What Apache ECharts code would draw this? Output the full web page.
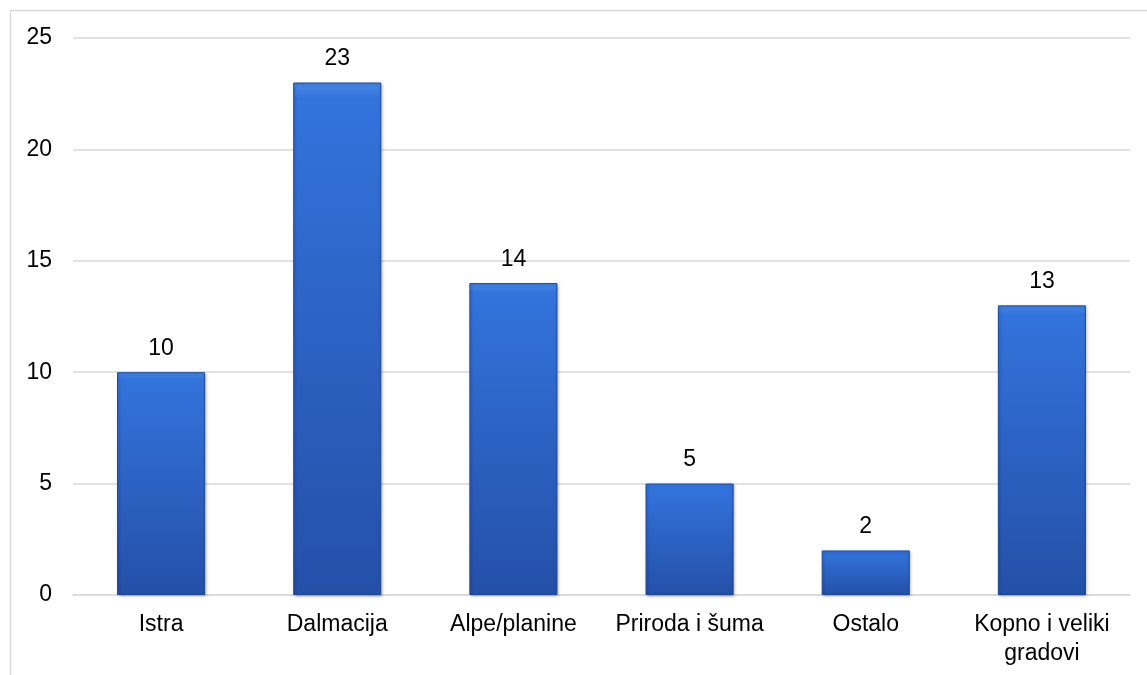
<!DOCTYPE html>
<html><head><meta charset="utf-8">
<script src="https://cdn.jsdelivr.net/npm/echarts@6/dist/echarts.min.js"></script>
<style>html,body{margin:0;padding:0;background:#fff}#c{width:1147px;height:675px}</style>
</head><body><div id="c"></div>
<script>
const categories = ['Istra', 'Dalmacija', 'Alpe/planine', 'Priroda i šuma', 'Ostalo', 'Kopno i veliki\ngradovi'];
const values = [10, 23, 14, 5, 2, 13];
const yTicks = [0, 5, 10, 15, 20, 25];

const chart = echarts.init(document.getElementById('c'));
chart.setOption({
  animation: false,
  textStyle: { fontFamily: 'Liberation Sans, Arial, sans-serif' },
  graphic: [{
    type: 'rect', left: 8, top: 8, shape: { width: 1200, height: 700 },
    style: { fill: 'none', stroke: '#d9d9d9', lineWidth: 1.5 }, silent: true
  }],
  grid: { left: 73, right: 17, top: 38, bottom: 80 },
  xAxis: {
    type: 'category', data: categories,
    axisLine: { lineStyle: { color: '#d9d9d9', width: 1.5 } },
    axisTick: { show: false },
    axisLabel: { color: '#000', fontSize: 23, margin: 15, lineHeight: 29, interval: 0, hideOverlap: false }
  },
  yAxis: {
    type: 'value', min: yTicks[0], max: yTicks[yTicks.length - 1], interval: 5,
    axisLine: { show: false }, axisTick: { show: false },
    axisLabel: { color: '#000', fontSize: 23, margin: 21 },
    splitLine: { lineStyle: { color: '#d9d9d9', width: 1.5 } }
  },
  series: [{
    type: 'bar', data: values, barWidth: '50%',
    itemStyle: {
      color: new echarts.graphic.LinearGradient(0, 0, 0, 1, [
        { offset: 0, color: '#4a8ae6' },
        { offset: 0.03, color: '#3373dc' },
        { offset: 1, color: '#2450a8' }
      ]),
      borderColor: '#1f4a96', borderWidth: 1,
      shadowColor: 'rgba(0,0,0,0.3)', shadowBlur: 3, shadowOffsetX: 1, shadowOffsetY: 1
    },
    label: { show: true, position: 'top', color: '#000', fontSize: 23, distance: 12 }
  }]
});
</script></body></html>
